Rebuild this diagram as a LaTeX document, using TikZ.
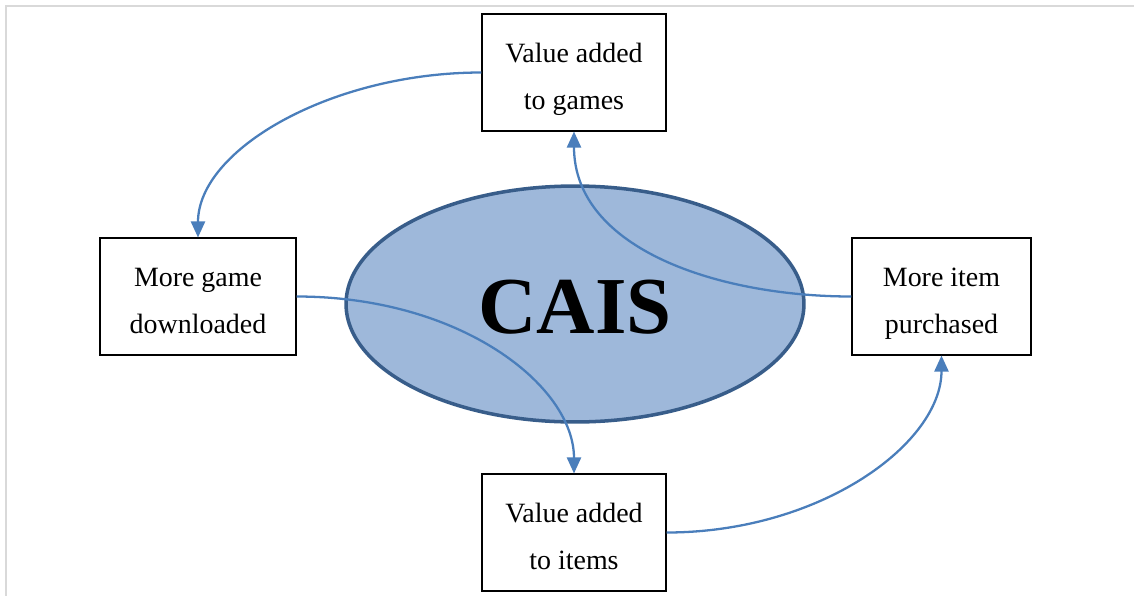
\documentclass[tikz,border=0pt]{standalone}
\usepackage{fontspec}
\setmainfont{Liberation Serif}
\usetikzlibrary{shapes.geometric,arrows.meta}
\definecolor{ovalfill}{RGB}{158,184,218}
\definecolor{ovalline}{RGB}{56,93,138}
\definecolor{linkblue}{RGB}{74,126,187}
\definecolor{framegray}{RGB}{217,217,217}
% two centred lines, set a little below the middle of the box
\newcommand{\twolines}[2]{\raisebox{-0.08cm}[\height][\depth]{%
  \begin{tabular}{@{}c@{}}#1\\#2\end{tabular}}}
\begin{document}
\begin{tikzpicture}[x=0.02cm,y=-0.02cm,
  stepbox/.style={draw=black,line width=0.6pt,fill=white,
    inner sep=0pt,minimum height=2.34cm,
    font=\fontsize{15.9}{27}\selectfont},
  link/.style={draw=linkblue,line width=1.3pt,
    -{Triangle[length=0.32cm,width=0.28cm]}}]
\useasboundingbox (0,0) rectangle (1134,596);
% page frame
\draw[framegray,line width=1.2pt] (1134,6) -- (6,6) -- (6,596);
% central oval
\node[ellipse,draw=ovalline,fill=ovalfill,line width=2pt,inner sep=0pt,
  minimum width=9.16cm,minimum height=4.72cm] (cais) at (575,304) {};
\node[font=\fontsize{46}{46}\selectfont\bfseries,inner sep=0pt]
  (caislabel) at (575,307) {CAIS};
% boxes
\node[stepbox,minimum width=3.68cm] (top) at (574,72.5) {\twolines{Value added}{to games}};
\node[stepbox,minimum width=3.92cm] (left) at (198,296.5) {\twolines{More game}{downloaded}};
\node[stepbox,minimum width=3.58cm] (right) at (941.5,296.5) {\twolines{More item}{purchased}};
\node[stepbox,minimum width=3.68cm] (bottom) at (574,532.5) {\twolines{Value added}{to items}};
% cycle of connectors
\draw[link] (top.west) .. controls +(-150,0) and +(0,-88) .. (left.north);
\draw[link] (left.east) .. controls +(164,0) and +(0,-88) .. (bottom.north);
\draw[link] (bottom.east) .. controls +(154,0) and +(0,88) .. (right.south);
\draw[link] (right.west) .. controls +(-132,0) and +(0,118) .. (top.south);
\end{tikzpicture}
\end{document}
